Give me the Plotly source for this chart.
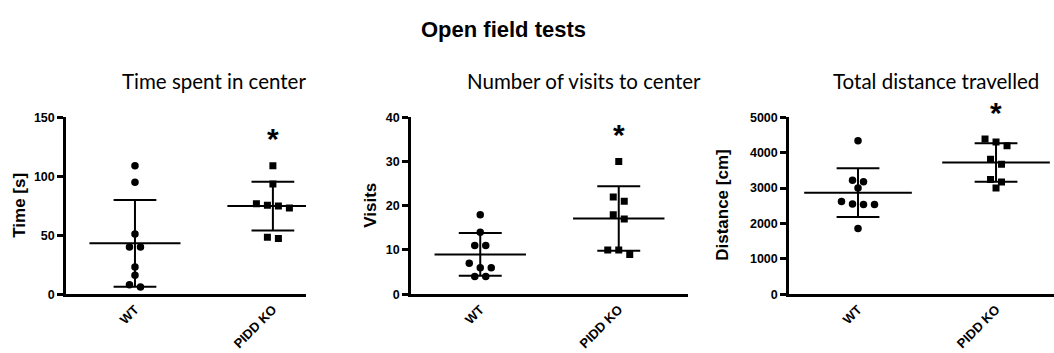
import numpy as np
import plotly.graph_objects as go

# ---------------- data ----------------
main_title = "Open field tests"
groups = ["WT", "PIDD KO"]
panel_titles = ["Time spent in center", "Number of visits to center", "Total distance travelled"]
y_titles = ["Time [s]", "Visits", "Distance [cm]"]

time_wt = [109, 95, 51, 40, 40, 23, 16, 8, 6]
time_ko = [109, 93.5, 76.8, 75.4, 74.9, 73.2, 48.3, 47.2]
visits_wt = [18, 14, 11, 11, 7, 6, 6, 4, 4]
visits_ko = [30, 22, 21, 18, 17, 10, 10, 9]
dist_wt = [4340, 3220, 3180, 3000, 2620, 2550, 2540, 2540, 1860]
dist_ko = [4387, 4306, 4198, 3820, 3676, 3243, 3171, 3000]

y_max = [150, 40, 5000]
y_dtick = [50, 10, 1000]
significance = ["*", "*", "*"]

panels = [(time_wt, time_ko), (visits_wt, visits_ko), (dist_wt, dist_ko)]

# ---------------- layout geometry ----------------
W, H = 1054, 353
x_dom_px = [(66, 306), (411, 688), (789, 1054)]
x_ranges = [(-0.5, 1.24), (-0.5, 1.5), (-0.5, 1.42)]
y_dom_px = (115, 299)
ytitle_px = [20, 371, 723]
subtitle_px = [214, 584, 936]
mean_hw = [0.33, 0.33, 0.39]
cap_hw = 0.155

FONT = "Liberation Sans, Arial, sans-serif"
SUBFONT = "Lato, Calibri, sans-serif"


def px2paper_x(px):
    return px / W


def px2paper_y(py):
    return (H - py) / H


def swarm(vals, px_per_y, px_per_x, spacing=11.0, thresh=7.2):
    order = sorted(range(len(vals)), key=lambda i: -vals[i])
    offs = [0.0] * len(vals)
    rows, cur = [], []
    for i in order:
        if cur and (vals[cur[0]] - vals[i]) * px_per_y > thresh:
            rows.append(cur)
            cur = []
        cur.append(i)
    rows.append(cur)
    for row in rows:
        n = len(row)
        for k, i in enumerate(row):
            offs[i] = (k - (n - 1) / 2) * spacing / px_per_x
    return offs


fig = go.Figure()
annotations = []

for p, (wt, ko) in enumerate(panels):
    xs = "x" if p == 0 else f"x{p+1}"
    ys = "y" if p == 0 else f"y{p+1}"
    x0, x1 = x_dom_px[p]
    r0, r1 = x_ranges[p]
    px_per_x = (x1 - x0) / (r1 - r0)
    px_per_y = (y_dom_px[1] - y_dom_px[0]) / y_max[p]

    for g, vals in enumerate([wt, ko]):
        vals = np.array(vals, dtype=float)
        offs = swarm(list(vals), px_per_y, px_per_x)
        xpos = [g + o for o in offs]
        fig.add_trace(go.Scatter(
            x=xpos, y=vals, mode="markers", xaxis=xs, yaxis=ys,
            marker=dict(symbol="circle" if g == 0 else "square",
                        size=7.5 if g == 0 else 7, color="black"),
            showlegend=False, hoverinfo="skip"))
        m = vals.mean()
        sd = vals.std(ddof=1)
        hw = mean_hw[p]
        fig.add_trace(go.Scatter(
            x=[g - hw, g + hw], y=[m, m], mode="lines", xaxis=xs, yaxis=ys,
            line=dict(color="black", width=2), showlegend=False, hoverinfo="skip"))
        fig.add_trace(go.Scatter(
            x=[g - cap_hw, g + cap_hw, None, g, g, None, g - cap_hw, g + cap_hw],
            y=[m + sd, m + sd, None, m + sd, m - sd, None, m - sd, m - sd],
            mode="lines", xaxis=xs, yaxis=ys,
            line=dict(color="black", width=2), showlegend=False, hoverinfo="skip"))

    # axes
    fig.update_layout({
        ("xaxis" if p == 0 else f"xaxis{p+1}"): dict(
            domain=[px2paper_x(x0), px2paper_x(x1)], range=[r0, r1],
            anchor=ys, tickvals=[0, 1], ticktext=groups, tickangle=-45,
            showline=True, linecolor="black", linewidth=2.5, ticks="",
            showgrid=False, zeroline=False, fixedrange=True,
            tickfont=dict(family=FONT, size=13, color="black", weight="bold")),
        ("yaxis" if p == 0 else f"yaxis{p+1}"): dict(
            domain=[px2paper_y(y_dom_px[1]), px2paper_y(y_dom_px[0])],
            range=[0, y_max[p]], anchor=xs,
            tickmode="linear", tick0=0, dtick=y_dtick[p],
            showline=True, linecolor="black", linewidth=2.5,
            ticks="outside", ticklen=6, tickwidth=2.5, tickcolor="black",
            showgrid=False, zeroline=False, fixedrange=True,
            tickfont=dict(family=FONT, size=12.5, color="black", weight="bold")),
    })

    # y title
    annotations.append(dict(
        text=y_titles[p], xref="paper", yref="paper",
        x=px2paper_x(ytitle_px[p]), y=px2paper_y(sum(y_dom_px) / 2),
        xanchor="center", yanchor="middle", textangle=-90, showarrow=False,
        font=dict(family=FONT, size=17, color="black", weight="bold")))
    # subtitle
    annotations.append(dict(
        text=panel_titles[p], xref="paper", yref="paper",
        x=px2paper_x(subtitle_px[p]), y=px2paper_y(77),
        xanchor="center", yanchor="middle", showarrow=False,
        font=dict(family=SUBFONT, size=20.5, color="black")))
    # significance mark
    annotations.append(dict(
        text=significance[p], xref=xs, yref=ys, x=1, y=max(ko),
        xanchor="center", yanchor="middle", yshift=27, showarrow=False,
        font=dict(family=FONT, size=30, color="black", weight="bold")))

annotations.append(dict(
    text=main_title, xref="paper", yref="paper",
    x=px2paper_x(503), y=px2paper_y(23), xanchor="center", yanchor="middle",
    showarrow=False, font=dict(family=FONT, size=22, color="black", weight="bold")))

fig.update_layout(
    width=W, height=H, autosize=False, margin=dict(l=0, r=0, t=0, b=0),
    paper_bgcolor="white", plot_bgcolor="white",
    annotations=annotations, showlegend=False)

fig.write_html(
    "out.html",
    config={"responsive": False, "displayModeBar": False},
    post_script=("document.body.style.margin='0';"
                 "document.body.style.overflow='hidden';"
                 "Plotly.relayout('{plot_id}', {width: %d, height: %d});" % (W, H)),
)
